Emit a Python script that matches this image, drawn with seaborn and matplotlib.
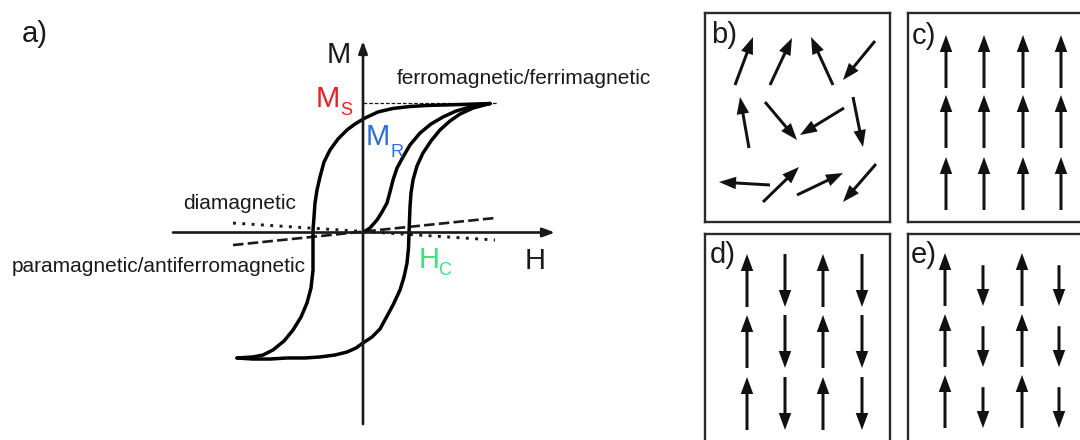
import matplotlib
matplotlib.use("Agg")
import matplotlib.pyplot as plt
import numpy as np
import pandas as pd
import seaborn as sns

# ---------------- hysteresis data (H in field units, M / Ms) ----------------
desc_H = [1.27, 1.12, 0.97, 0.82, 0.64, 0.47, 0.30, 0.15, 0.02, -0.08, -0.16,
          -0.25, -0.33, -0.39, -0.43, -0.46, -0.48, -0.49, -0.50, -0.50, -0.50,
          -0.52, -0.56, -0.62, -0.70, -0.79, -0.90, -1.00, -1.10, -1.26]
desc_M = [0.996, 0.992, 0.988, 0.985, 0.981, 0.973, 0.958, 0.931, 0.884, 0.838,
          0.792, 0.722, 0.637, 0.544, 0.429, 0.328, 0.228, 0.120, 0.019, -0.135,
          -0.290, -0.429, -0.544, -0.653, -0.753, -0.838, -0.907, -0.946, -0.961,
          -0.969]

asc_H = [-1.26, -1.10, -0.93, -0.76, -0.58, -0.43, -0.28, -0.16, -0.07, 0.00,
         0.09, 0.17, 0.23, 0.30, 0.37, 0.41, 0.44, 0.455, 0.46, 0.465, 0.47,
         0.48, 0.50, 0.54, 0.60, 0.68, 0.77, 0.87, 0.97, 1.10, 1.27]
asc_M = [-0.969, -0.977, -0.977, -0.969, -0.969, -0.961, -0.946, -0.923, -0.892,
         -0.853, -0.807, -0.745, -0.660, -0.560, -0.444, -0.344, -0.236, -0.120,
         -0.004, 0.097, 0.197, 0.305, 0.405, 0.514, 0.614, 0.707, 0.792, 0.861,
         0.915, 0.961, 0.996]

virgin_H = [0.00, 0.07, 0.14, 0.19, 0.24, 0.27, 0.30, 0.34, 0.40, 0.47, 0.57,
            0.68, 0.80, 0.93, 1.07, 1.27]
virgin_M = [0.000, 0.035, 0.097, 0.158, 0.228, 0.313, 0.405, 0.498, 0.583,
            0.676, 0.768, 0.838, 0.892, 0.938, 0.969, 0.996]

# linear responses and saturation level
dia_H = [-1.30, 1.32]
dia_M = [0.073, -0.058]
para_H = [-1.30, 1.32]
para_M = [-0.097, 0.112]
sat_H = [0.00, 1.34]
sat_M = [1.00, 1.00]

# ---------------- spin configurations ----------------
# b) random moments: tail position and vector
b_x = [30, 65, 128, 170, 44, 60, 139, 148, 65, 58, 92, 171]
b_y = [72, 72, 72, 28, 135, 89, 95, 84, 172, 189, 182, 151]
b_dx = [18, 22, -22, -32, -9, 32, -44, 10, -51, 36, 46, -33]
b_dy = [-48, -47, -48, 39, -51, 38, 27, 50, -3, -35, -22, 38]

# c), d), e): column positions, row baselines, relative moment per column
c_cols = [38, 76, 115, 153]
c_rows = [75, 135, 197]
c_moment = [1.0, 1.0, 1.0, 1.0]

d_cols = [42, 80, 118, 157]
d_rows = [73, 134, 196]
d_moment = [1.0, -1.0, 1.0, -1.0]

e_cols = [37, 75, 114, 151]
e_rows = [72, 133, 194]
e_moment = [1.0, -0.77, 1.0, -0.77]

SPIN_LEN = 53

# ---------------- styling ----------------
sns.set_theme(style="white")
plt.rcParams["font.family"] = ["Liberation Sans", "DejaVu Sans"]
INK = "#1a1a1a"
RED = "#e5202a"
BLUE = "#2d6fd8"
GREEN = "#3ee27f"

W, H = 1080, 440
fig = plt.figure(figsize=(W / 100, H / 100), dpi=100)
fig.patch.set_facecolor("white")

# ---------------- panel a: M(H) ----------------
ax = fig.add_axes([0, 0, 680 / W, 1])
ax.set_xlim(-3.63, 3.17)
ax.set_ylim(-1.6023, 1.7954)
ax.set_axis_off()

arrow_kw = dict(arrowstyle="-|>,head_length=0.6,head_width=0.22", lw=1.9,
                color=INK, shrinkA=0, shrinkB=0)
ax.annotate("", xy=(1.92, 0), xytext=(-1.90, 0), arrowprops=arrow_kw)
ax.annotate("", xy=(0, 1.479), xytext=(0, -1.479), arrowprops=arrow_kw)

ax.plot(sat_H, sat_M, color=INK, lw=0.9, ls=(0, (3, 1.5)))
ax.plot(dia_H, dia_M, color=INK, lw=2.1, ls=(0, (1, 2.2)))
ax.plot(para_H, para_M, color=INK, lw=1.9, ls=(0, (4, 1.6)))

for hx, my in [(desc_H, desc_M), (asc_H, asc_M), (virgin_H, virgin_M)]:
    sns.lineplot(x=hx, y=my, sort=False, estimator=None, ax=ax,
                 color="black", lw=2.5, solid_capstyle="round")

big = 21
ax.text(-3.41, 1.471, "a)", fontsize=big, color=INK)
ax.text(-0.36, 1.309, "M", fontsize=big, color=INK)
ax.text(-0.47, 0.969, "M", fontsize=big, color=RED)
ax.text(-0.225, 0.907, "S", fontsize=13, color=RED)
ax.text(0.03, 0.676, "M", fontsize=big, color=BLUE)
ax.text(0.27, 0.583, "R", fontsize=13, color=BLUE)
ax.text(0.56, -0.274, "H", fontsize=big, color=GREEN)
ax.text(0.75, -0.328, "C", fontsize=13, color=GREEN)
ax.text(1.62, -0.282, "H", fontsize=big, color=INK)
ax.text(0.34, 1.147, "ferromagnetic/ferrimagnetic", fontsize=15, color=INK)
ax.text(-1.80, 0.178, "diamagnetic", fontsize=15, color=INK)
ax.text(-3.51, -0.305, "paramagnetic/antiferromagnetic", fontsize=15, color=INK)


# ---------------- panels b-e: spin arrangements ----------------
def panel(left, top, label, label_xy):
    pw, ph = 185, 209
    pax = fig.add_axes([left / W, 1 - (top + ph) / H, pw / W, ph / H])
    pax.set_xlim(0, pw)
    pax.set_ylim(ph, 0)
    pax.set_xticks([])
    pax.set_yticks([])
    for s in pax.spines.values():
        s.set_visible(True)
        s.set_color("#2a2a2a")
        s.set_linewidth(1.7)
    pax.text(label_xy[0], label_xy[1], label, fontsize=big, color=INK)
    return pax


def spin(pax, x, y, dx, dy):
    pax.arrow(x, y, dx, dy, width=3.0, head_width=12.5, head_length=17,
              length_includes_head=True, fc="#111111", ec="#111111", lw=0)


def lattice(pax, cols, rows, moments):
    for base in rows:
        for x, m in zip(cols, moments):
            length = abs(m) * SPIN_LEN
            if m > 0:
                spin(pax, x, base, 0, -length)
            else:
                spin(pax, x, base - length, 0, length)


pb = panel(705, 13, "b)", (6, 30))
for x, y, dx, dy in zip(b_x, b_y, b_dx, b_dy):
    spin(pb, x, y, dx, dy)

pc = panel(908, 13, "c)", (4, 31))
lattice(pc, c_cols, c_rows, c_moment)

pd_ = panel(705, 234, "d)", (5, 29))
lattice(pd_, d_cols, d_rows, d_moment)

pe = panel(908, 234, "e)", (3, 29))
lattice(pe, e_cols, e_rows, e_moment)

fig.savefig("out.png", dpi=100, facecolor="white")
